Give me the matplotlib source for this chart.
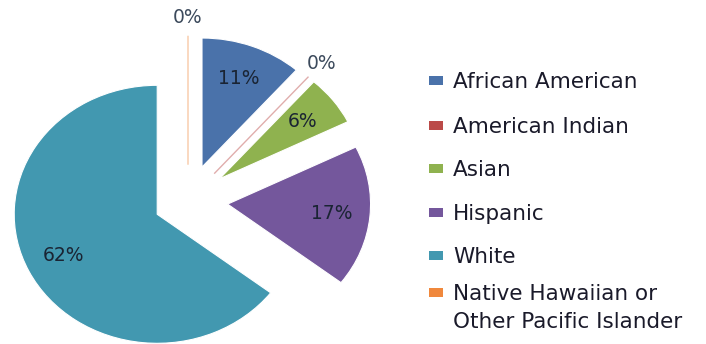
# ethnicity_pie.py
# Exploded pie of enrollment by ethnicity, with a legend on the right.

import matplotlib
matplotlib.use("Agg")
import matplotlib.pyplot as plt
from matplotlib.patches import Rectangle
import numpy as np

## Data

groups = ["African American", "American Indian", "Asian", "Hispanic", "White",
          "Native Hawaiian or\nOther Pacific Islander"]
shares = [11, 0, 6, 17, 62, 0]
colors = ["#4a72aa", "#bb4a48", "#8fb24f", "#74579c", "#4298b0", "#f0883c"]
explode = [0.278, 0.278, 0.278, 0.278, 0.24, 0.278]

## Figure

W, H = 706, 344
fig = plt.figure(figsize=(W / 100, H / 100), dpi=100)
ax = fig.add_axes([0, 0, 1, 1])

wedges, _ = ax.pie(shares, colors=colors, explode=explode, startangle=90,
                   counterclock=False,
                   wedgeprops=dict(linewidth=0.8, edgecolor="white"))

# zero-width slices only show up as a thin line in their own colour
for w, v, c in zip(wedges, shares, colors):
    if v == 0:
        w.set_edgecolor(c)
        w.set_alpha(0.45)
        w.set_linewidth(1.0)

# pie is stretched a bit wider than tall (143 px per unit across, 129 up)
cx, cy = 188, 143.4
sx, sy = 143.0, 129.0
ax.set_aspect("auto")
ax.set_xlim(-cx / sx, (W - cx) / sx)
ax.set_ylim(-cy / sy, (H - cy) / sy)
ax.axis("off")

# percentage labels, inside for real slices, just outside for the empty ones
for w, v in zip(wedges, shares):
    mid = np.deg2rad((w.theta1 + w.theta2) / 2)
    dist = 0.73 if v > 0 else 1.14
    x = w.center[0] + dist * np.cos(mid)
    y = w.center[1] + dist * np.sin(mid)
    col = "#1a2433" if v > 0 else "#3c4a5c"
    ax.text(x, y, str(v) + "%", ha="center", va="center", fontsize=13.5,
            color=col)

## Legend

legend_base = [88, 133, 176, 220, 263, 300]
for name, c, yb in zip(groups, colors, legend_base):
    fig.patches.append(Rectangle((429 / W, 1 - (yb - 3) / H), 14 / W, 9 / H,
                                 transform=fig.transFigure, facecolor=c,
                                 edgecolor="none"))
    lines = name.split("\n")
    for i, line in enumerate(lines):
        fig.text(453 / W, 1 - (yb + 28 * i) / H, line, ha="left",
                 va="baseline", fontsize=15.5, color="#1a1a2a")

fig.savefig("out.png", dpi=100)
